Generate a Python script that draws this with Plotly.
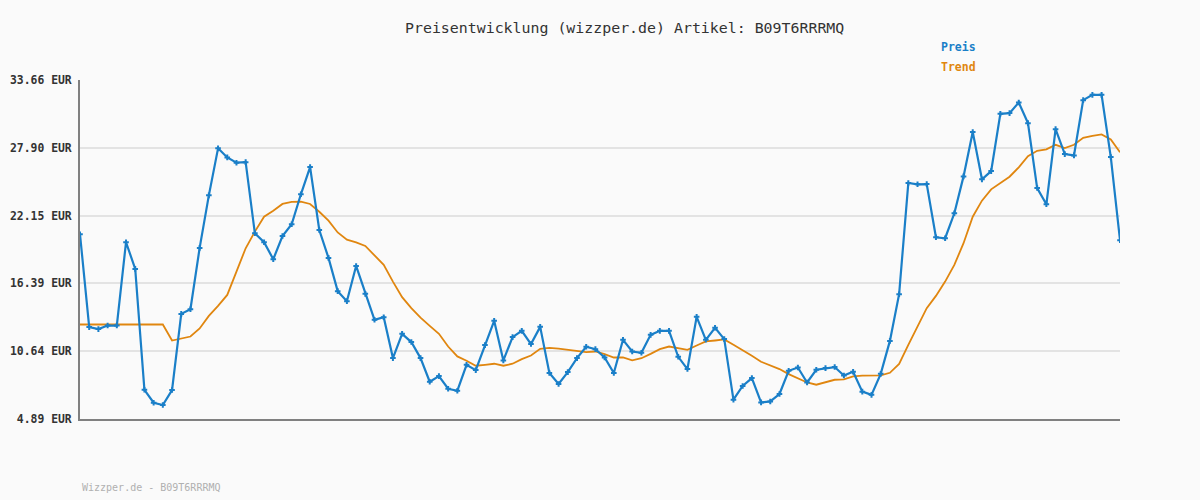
import plotly.graph_objects as go

preis = [20.57, 12.69, 12.52, 12.82, 12.82, 19.89, 17.63, 7.37, 6.27, 6.08,
         7.35, 13.81, 14.21, 19.41, 23.87, 27.86, 27.09, 26.64, 26.69, 20.65,
         19.89, 18.45, 20.42, 21.42, 23.96, 26.27, 20.93, 18.56, 15.74, 14.89,
         17.88, 15.51, 13.31, 13.53, 10.06, 12.12, 11.42, 10.06, 8.05, 8.53,
         7.46, 7.29, 9.49, 9.04, 11.16, 13.22, 9.86, 11.84, 12.37, 11.25,
         12.71, 8.79, 7.86, 8.87, 10.06, 11.02, 10.82, 10.11, 8.79, 11.61,
         10.62, 10.51, 12.03, 12.37, 12.37, 10.17, 9.13, 13.56, 11.61, 12.63,
         11.67, 6.53, 7.69, 8.36, 6.30, 6.38, 7.01, 8.98, 9.26, 7.99,
         9.07, 9.21, 9.30, 8.58, 8.90, 7.21, 6.94, 8.72, 11.52, 15.48,
         24.92, 24.81, 24.83, 20.31, 20.23, 22.35, 25.48, 29.24, 25.23, 25.93,
         30.79, 30.85, 31.75, 30.00, 24.49, 23.11, 29.49, 27.37, 27.26, 31.95,
         32.40, 32.40, 27.12, 20.06]

trend = [12.91, 12.91, 12.91, 12.91, 12.91, 12.91, 12.91, 12.91, 12.91, 12.91,
         11.55, 11.72, 11.89, 12.57, 13.64, 14.49, 15.42, 17.40, 19.38, 20.79,
         22.06, 22.57, 23.14, 23.31, 23.33, 23.14, 22.48, 21.72, 20.72, 20.11,
         19.88, 19.58, 18.81, 17.97, 16.55, 15.23, 14.30, 13.50, 12.80, 12.12,
         11.04, 10.20, 9.83, 9.41, 9.49, 9.58, 9.41, 9.58, 9.97, 10.28,
         10.85, 10.93, 10.87, 10.79, 10.70, 10.57, 10.62, 10.40, 10.11, 10.11,
         9.86, 10.05, 10.42, 10.82, 11.04, 10.93, 10.76, 11.13, 11.47, 11.55,
         11.64, 11.19, 10.74, 10.25, 9.75, 9.41, 9.13, 8.70, 8.36, 7.99,
         7.80, 8.03, 8.22, 8.25, 8.50, 8.57, 8.57, 8.60, 8.81, 9.56,
         11.19, 12.80, 14.30, 15.34, 16.55, 17.97, 19.81, 22.06, 23.42, 24.38,
         24.89, 25.45, 26.25, 27.20, 27.65, 27.77, 28.16, 27.88, 28.16, 28.75,
         28.92, 29.04, 28.62, 27.52]

tick_vals = [4.89, 10.64, 16.39, 22.15, 27.90, 33.66]
tick_text = [f"{v:.2f} EUR" for v in tick_vals]

title_text = "Preisentwicklung (wizzper.de) Artikel: B09T6RRRMQ"
footer_text = "Wizzper.de - B09T6RRRMQ"

x = list(range(len(preis)))

BLUE = "#1a7fc8"
ORANGE = "#e0860f"
MONO = "DejaVu Sans Mono, Liberation Mono, monospace"

W, H = 1200, 500
L, R, T, B = 80, 80, 80, 81
pw, ph = W - L - R, H - T - B

fig = go.Figure()
fig.add_trace(go.Scatter(
    x=x, y=trend, mode="lines", name="Trend",
    line=dict(color=ORANGE, width=1.8), hoverinfo="skip"))
fig.add_trace(go.Scatter(
    x=x, y=preis, mode="lines+markers", name="Preis",
    line=dict(color=BLUE, width=2.2),
    marker=dict(symbol="cross-thin", size=4, color=BLUE,
                line=dict(color=BLUE, width=2))))

annots = [
    (title_text, 624, 28, "center", 14.9, "#333333", False),
    ("Preis", 939, 47, "left", 11.5, BLUE, True),
    ("Trend", 939, 67, "left", 11.5, ORANGE, True),
    (footer_text, 80, 487, "left", 10, "#b0b0b0", False),
]

fig.update_layout(
    width=W, height=H,
    margin=dict(l=L, r=R, t=T, b=B, autoexpand=False),
    paper_bgcolor="#fafafa", plot_bgcolor="#fafafa",
    showlegend=False,
    font=dict(family=MONO, color="#333333"),
    xaxis=dict(range=[0, len(preis) - 1], showticklabels=False, showgrid=False,
               zeroline=False, showline=True, linecolor="#808080", linewidth=2,
               ticks="", automargin=False),
    yaxis=dict(range=[tick_vals[0], tick_vals[-1]], tickvals=tick_vals,
               ticktext=tick_text, showgrid=True, gridcolor="#e3e3e3", gridwidth=2,
               zeroline=False, showline=True, linecolor="#808080", linewidth=2,
               ticks="", ticklabelstandoff=4, automargin=False,
               tickfont=dict(family=MONO, size=11.4, color="#333333", weight="bold")),
    annotations=[
        dict(text=(f"<b>{t}</b>" if b else t), xref="paper", yref="paper",
             x=(px - L) / pw, y=1 - (py - T) / ph,
             xanchor=xa, yanchor="middle", showarrow=False,
             font=dict(family=MONO, size=sz, color=c))
        for (t, px, py, xa, sz, c, b) in annots
    ],
)

fig.write_html("out.html", config={"displayModeBar": False},
               post_script="document.body.style.margin='0';document.body.style.background='#fafafa';")
